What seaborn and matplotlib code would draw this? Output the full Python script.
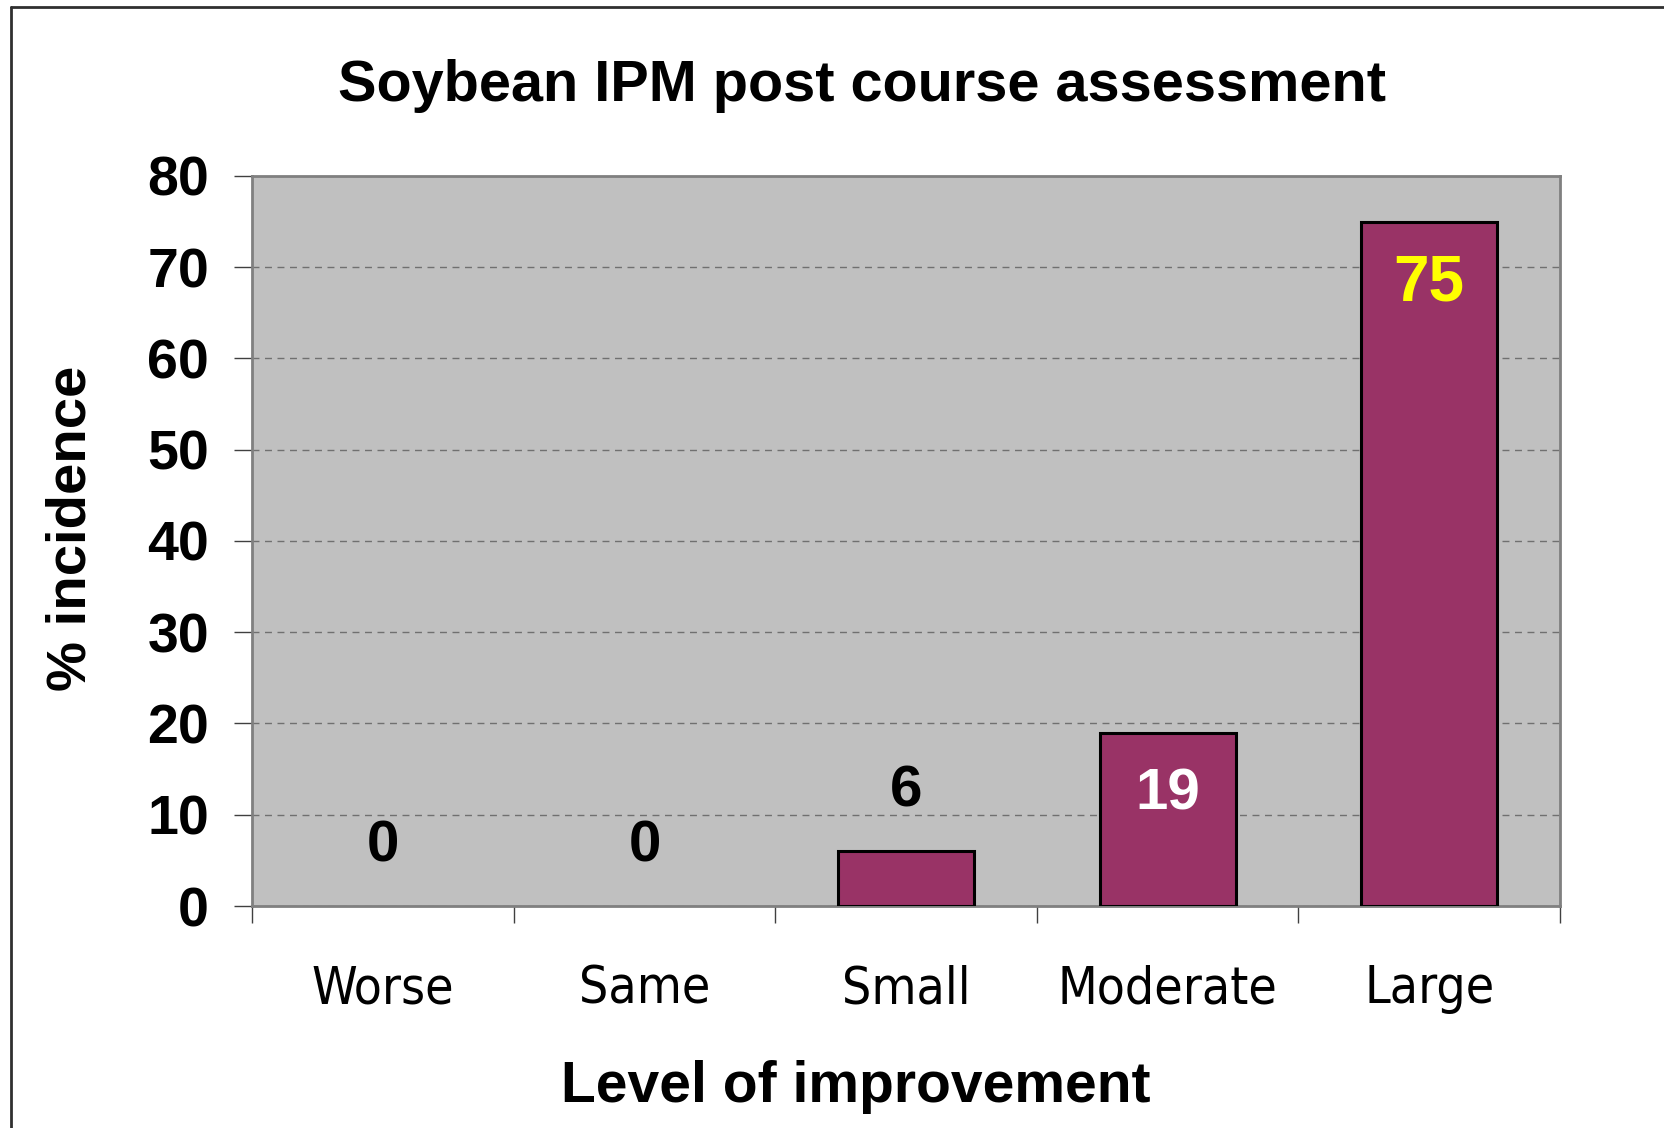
import matplotlib
matplotlib.use("Agg")
import matplotlib.pyplot as plt
import matplotlib.lines as mlines
import seaborn as sns
import pandas as pd

# data
levels = ["Worse", "Same", "Small", "Moderate", "Large"]
incidence = [0, 0, 6, 19, 75]
label_colors = ["black", "black", "black", "white", "yellow"]
label_sizes = [42, 42, 42, 42, 46]
yticks = [0, 10, 20, 30, 40, 50, 60, 70, 80]

sns.set_style("white")
plt.rcParams['font.family'] = ["Liberation Sans", "DejaVu Sans"]
plt.rcParams['text.color'] = "black"
plt.rcParams['axes.labelcolor'] = "black"
plt.rcParams['xtick.labelcolor'] = "black"
plt.rcParams['ytick.labelcolor'] = "black"

df = pd.DataFrame({"level": levels, "incidence": incidence})

fig = plt.figure(figsize = (16.65, 11.28), dpi = 100)
ax = fig.add_axes([0.1514, 0.1968, 0.7855, 0.6472])
ax.set_facecolor("#C0C0C0")

sns.barplot(data = df, x = "level", y = "incidence", order = levels, color = "#993366",
            edgecolor = "black", linewidth = 2.2, width = 0.52, saturation = 1, ax = ax, zorder = 3)
# empty bars leave no outline
for p in ax.patches:
    if p.get_height() == 0:
        p.set_linewidth(0)

ax.set_ylim(0, 80)
ax.set_xlim(-0.5, len(levels) - 0.5)
ax.set_yticks(yticks)
ax.yaxis.grid(True, color = "#707070", linestyle = (0, (5, 4)), linewidth = 1, zorder = 1)
ax.set_axisbelow(True)

for sp in ax.spines.values():
    sp.set_color("#808080")
    sp.set_linewidth(2)
    sp.set_visible(True)

# y ticks
ax.tick_params(axis = "y", direction = "out", length = 13, width = 1, color = "#404040", pad = 18,
               labelsize = 40, left = True, labelcolor = "black")
for t in ax.get_yticklabels():
    t.set_fontweight("bold")

# x ticks: labels at centres, marks at category edges
ax.tick_params(axis = "x", which = "major", length = 0, pad = 42, labelsize = 37, bottom = True,
               labelcolor = "black")
ax.set_xticks(range(len(levels)))
ax.set_xticklabels(levels, family = ["DejaVu Sans"], fontstretch = "condensed")
ax.set_xticks([i - 0.5 for i in range(len(levels) + 1)], minor = True)
ax.tick_params(axis = "x", which = "minor", direction = "out", length = 12, width = 1, color = "#404040", bottom = True)

# value labels
for i, v in enumerate(incidence):
    ypos = v + 6.5 if v < 10 else v - 6.8
    ax.text(i, ypos, str(v), ha = "center", va = "center", fontsize = label_sizes[i],
            fontweight = "bold", color = label_colors[i], zorder = 5)

ax.set_xlabel("")
ax.set_ylabel("")
fig.text(0.518, 0.924, "Soybean IPM post course assessment", ha = "center", va = "center",
         fontsize = 41.5, fontweight = "bold")
fig.text(0.514, 0.036, "Level of improvement", ha = "center", va = "center",
         fontsize = 41, fontweight = "bold")
fig.text(0.043, 0.532, "% incidence", ha = "center", va = "center", rotation = 90,
         fontsize = 40.5, fontweight = "bold")

# partial frame around the figure (top and left only)
fig.add_artist(mlines.Line2D([0.0066, 1.0], [0.9938, 0.9938], transform = fig.transFigure,
                             color = "#303030", linewidth = 2))
fig.add_artist(mlines.Line2D([0.0066, 0.0066], [0.0, 0.9938], transform = fig.transFigure,
                             color = "#303030", linewidth = 2))

fig.savefig("out.png", dpi = 100)
